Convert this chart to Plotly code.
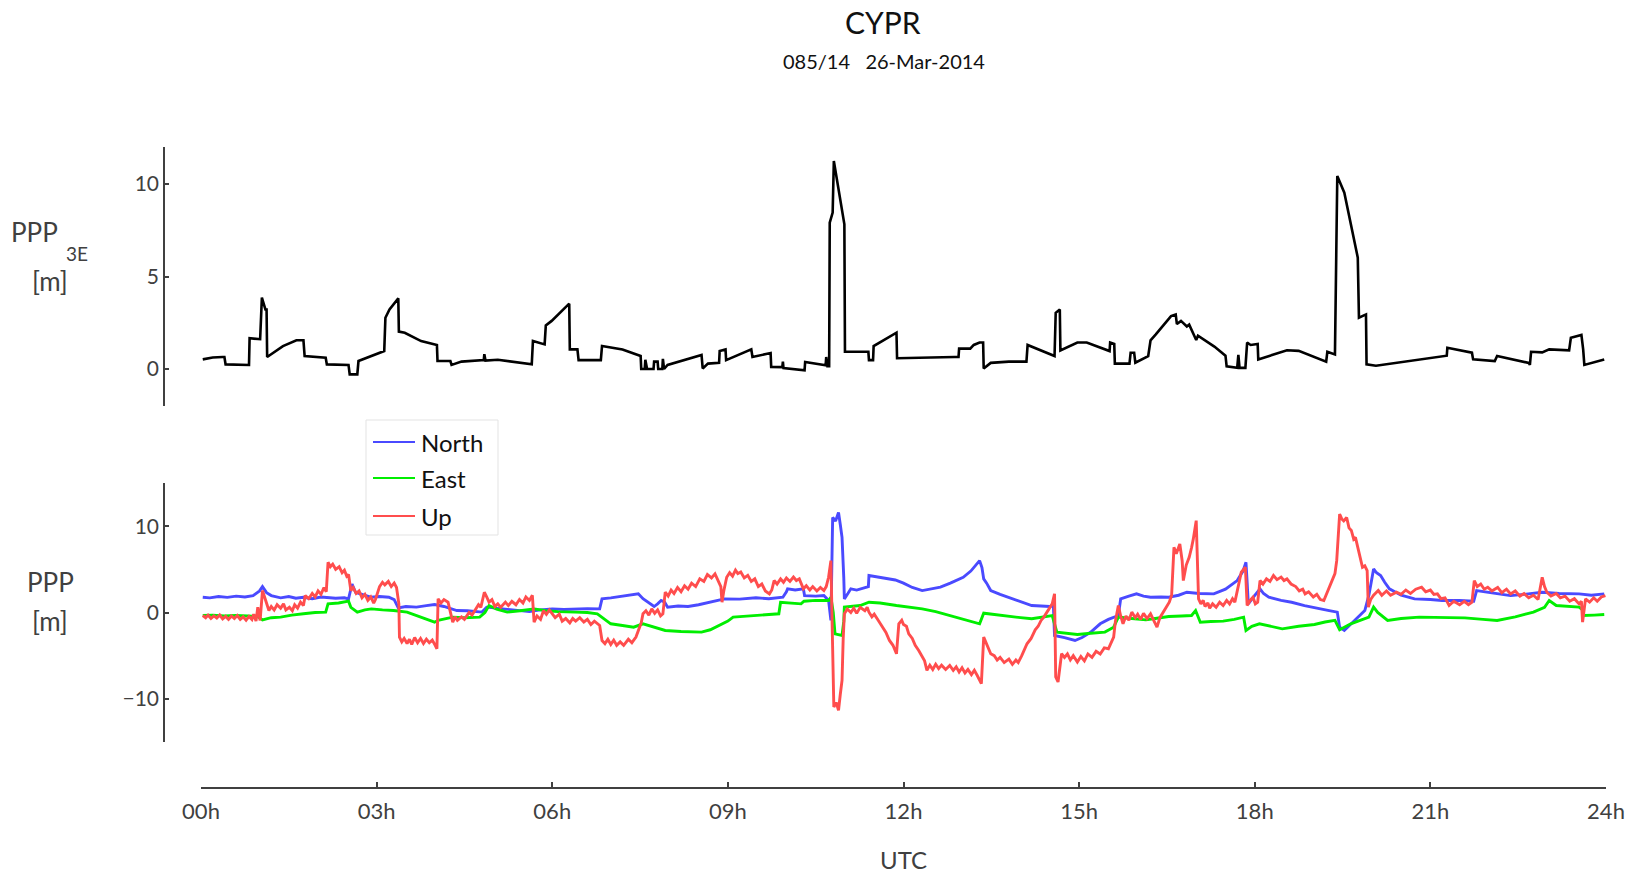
import plotly.graph_objects as go

# ---------------- data ----------------
top_t = [0.03,0.20,0.37,0.40,0.42,0.82,0.83,0.95,1.01,1.04,1.10,1.12,1.13,1.40,1.63,1.75,1.77,2.13,2.15,2.52,2.54,2.67,2.69,3.13,3.15,3.22,3.37,3.38,3.48,3.76,4.03,4.04,4.26,4.28,4.45,4.83,4.84,4.86,5.07,5.65,5.67,5.87,5.89,5.99,6.29,6.30,6.43,6.45,6.83,6.85,7.20,7.51,7.52,7.58,7.59,7.62,7.73,7.74,7.80,7.81,7.88,7.89,7.91,7.97,8.30,8.55,8.57,8.66,8.85,8.86,8.96,8.97,9.40,9.42,9.73,9.74,9.93,9.94,9.95,10.31,10.32,10.67,10.68,10.70,10.73,10.74,10.79,10.81,10.99,11.00,11.40,11.41,11.48,11.49,11.88,11.89,12.87,12.94,12.95,13.14,13.20,13.30,13.36,13.37,13.49,13.80,14.10,14.12,14.58,14.60,14.67,14.68,14.97,15.13,15.52,15.53,15.60,15.61,15.86,15.88,15.94,15.96,16.18,16.22,16.31,16.57,16.65,16.67,16.74,16.84,16.88,17.00,17.03,17.31,17.50,17.52,17.70,17.72,17.74,17.84,17.87,17.93,18.05,18.06,18.55,18.75,19.22,19.24,19.37,19.41,19.53,19.76,19.78,19.90,19.91,20.07,21.28,21.29,21.71,21.73,22.10,22.14,22.68,22.70,22.72,22.91,23.03,23.37,23.40,23.58,23.61,23.63,23.97]
top_v = [0.52,0.62,0.65,0.65,0.25,0.22,1.66,1.65,1.61,3.86,3.22,3.22,0.65,1.24,1.55,1.55,0.70,0.61,0.25,0.22,-0.29,-0.29,0.43,0.97,2.77,3.22,3.82,2.02,1.96,1.51,1.30,0.43,0.43,0.22,0.40,0.48,0.80,0.45,0.50,0.25,1.51,1.33,2.36,2.60,3.53,1.06,1.06,0.48,0.48,1.24,1.05,0.70,0.00,0.00,0.50,0.00,0.00,0.40,0.40,0.00,0.00,0.55,0.00,0.22,0.55,0.76,0.03,0.29,0.33,0.97,1.06,0.48,1.06,0.65,0.86,0.11,0.10,0.40,0.05,-0.07,0.38,0.20,0.65,0.15,0.15,7.91,8.45,11.24,7.82,0.93,0.93,0.48,0.48,1.24,1.96,0.58,0.65,0.65,1.11,1.10,1.30,1.43,1.43,0.03,0.33,0.40,0.40,1.30,0.70,3.04,3.22,1.00,1.43,1.43,0.97,1.43,1.35,0.29,0.29,0.88,0.88,0.34,0.70,1.55,1.87,2.86,2.95,2.43,2.60,2.30,2.40,1.57,1.80,1.21,0.72,0.14,0.06,0.77,0.06,0.06,1.43,1.30,1.35,0.52,1.01,0.98,0.40,0.93,0.79,10.43,9.53,6.02,2.77,2.95,0.25,0.18,0.72,1.15,0.88,0.52,0.43,0.70,0.33,0.22,0.93,0.90,1.06,1.01,1.69,1.84,1.06,0.22,0.52]

north_t = [0.03,0.15,0.30,0.45,0.60,0.75,0.89,1.00,1.05,1.12,1.20,1.36,1.50,1.62,1.75,1.90,2.05,2.13,2.30,2.45,2.52,2.58,2.64,2.75,2.90,3.05,3.21,3.30,3.37,3.50,3.68,3.85,3.99,4.15,4.37,4.55,4.76,4.80,4.88,5.05,5.23,5.40,5.61,5.80,6.00,6.20,6.39,6.60,6.81,6.85,7.00,7.24,7.40,7.47,7.55,7.74,7.80,7.86,7.92,7.97,8.15,8.32,8.50,8.70,8.94,9.20,9.48,9.70,9.94,10.00,10.02,10.15,10.29,10.31,10.50,10.64,10.72,10.76,10.78,10.79,10.84,10.89,10.92,10.95,10.98,10.99,11.05,11.10,11.20,11.34,11.40,11.41,11.55,11.72,11.86,12.00,12.15,12.32,12.47,12.63,12.80,13.02,13.15,13.30,13.34,13.37,13.42,13.49,13.65,13.88,14.05,14.19,14.35,14.50,14.56,14.58,14.75,14.93,15.05,15.20,15.36,15.50,15.67,15.71,15.85,15.98,16.10,16.22,16.40,16.53,16.70,16.84,17.05,17.30,17.50,17.70,17.80,17.85,17.87,17.89,17.98,18.09,18.15,18.24,18.45,18.63,18.85,19.10,19.25,19.41,19.45,19.53,19.70,19.88,19.95,20.03,20.08,20.15,20.22,20.30,20.50,20.73,21.00,21.20,21.50,21.74,21.79,22.00,22.20,22.37,22.60,22.91,23.20,23.54,23.75,23.97]
north_v = [1.77,1.70,1.85,1.75,1.90,1.80,1.96,2.50,3.00,2.30,1.96,1.70,1.85,1.65,1.77,1.60,1.80,1.77,1.65,1.70,1.58,3.30,2.35,2.10,1.77,1.85,1.77,1.50,0.54,0.70,0.62,0.80,0.93,0.70,0.23,0.20,0.04,0.05,0.62,0.50,0.42,0.30,0.10,0.30,0.42,0.35,0.42,0.45,0.42,1.58,1.70,1.96,2.10,2.16,1.60,0.69,1.00,1.39,1.20,0.62,0.75,0.69,0.90,1.20,1.58,1.55,1.70,1.60,1.77,2.40,2.74,2.60,2.74,1.96,1.90,1.96,1.40,-0.92,5.0,11.0,10.6,11.6,10.2,8.70,4.0,1.58,2.20,2.74,2.60,2.93,3.00,4.28,4.10,3.90,3.77,3.40,2.90,2.54,2.70,2.93,3.40,4.08,4.80,6.01,5.20,3.89,3.40,2.54,2.10,1.58,1.20,0.81,0.75,0.69,0.80,-2.66,-2.90,-3.24,-2.90,-2.27,-1.31,-0.80,-0.35,1.58,1.90,2.16,1.90,1.77,1.80,1.77,2.00,2.35,2.20,2.16,2.70,3.70,4.80,5.82,3.50,1.00,1.80,2.74,2.20,1.77,1.40,1.19,0.80,0.42,0.25,0.04,-1.70,-2.08,-1.00,0.23,2.00,5.05,4.60,4.28,3.50,2.74,2.00,1.58,1.50,1.39,1.40,1.30,2.54,2.30,2.10,1.96,2.10,2.35,2.20,2.16,2.00,2.16]

east_t = [0.03,0.20,0.40,0.59,0.80,0.97,1.05,1.20,1.36,1.55,1.75,1.95,2.13,2.17,2.35,2.52,2.56,2.67,2.80,2.91,3.10,3.29,3.52,3.68,3.85,3.99,4.05,4.30,4.50,4.76,4.85,4.92,5.05,5.23,5.45,5.69,5.90,6.10,6.39,6.60,6.77,6.90,7.00,7.20,7.39,7.55,7.70,7.93,8.20,8.55,8.70,8.86,9.00,9.09,9.40,9.70,9.87,9.90,10.10,10.25,10.30,10.50,10.72,10.76,10.80,10.83,10.95,10.98,10.99,11.10,11.26,11.41,11.60,11.88,12.10,12.32,12.55,12.79,13.05,13.30,13.37,13.60,13.80,14.00,14.19,14.40,14.54,14.62,14.80,14.97,15.20,15.44,15.59,15.67,15.90,16.14,16.30,16.53,16.75,16.92,16.99,17.07,17.25,17.46,17.65,17.81,17.85,17.95,18.08,18.25,18.47,18.75,19.02,19.20,19.37,19.45,19.64,19.80,19.95,20.03,20.10,20.27,20.50,20.81,21.20,21.59,21.90,22.14,22.45,22.76,22.95,23.03,23.15,23.35,23.54,23.60,23.62,23.80,23.97]
east_v = [-0.35,-0.30,-0.40,-0.35,-0.40,-0.46,-0.85,-0.60,-0.54,-0.30,-0.15,0.00,0.04,1.00,1.10,1.31,0.60,0.04,0.30,0.42,0.30,0.23,0.04,-0.35,-0.80,-1.12,-0.90,-0.54,-0.60,-0.54,0.00,0.81,0.40,0.04,0.20,0.42,0.20,0.10,0.04,0.00,-0.15,-0.80,-1.31,-1.50,-1.70,-1.31,-1.60,-2.08,-2.20,-2.27,-2.00,-1.50,-1.00,-0.54,-0.40,-0.30,-0.15,1.19,1.10,1.00,1.30,1.40,1.39,1.77,0.0,-2.47,-2.66,-1.0,0.62,0.70,0.81,1.19,1.10,0.81,0.60,0.42,0.10,-0.35,-0.80,-1.31,-0.08,-0.30,-0.46,-0.60,-0.73,-0.55,-0.35,-2.27,-2.40,-2.54,-2.40,-2.27,-1.70,-0.54,-0.70,-0.85,-0.70,-0.46,-0.40,-0.35,0.23,-1.12,-1.05,-1.00,-0.80,-0.54,-2.08,-1.60,-1.31,-1.60,-1.89,-1.60,-1.39,-1.10,-0.92,-2.00,-1.31,-0.90,-0.54,0.62,0.00,-0.92,-0.70,-0.54,-0.60,-0.62,-0.80,-0.92,-0.50,0.04,0.60,1.39,0.81,0.70,0.62,0.30,-0.35,-0.30,-0.23]

up_t = [0.03,0.08,0.12,0.17,0.22,0.27,0.32,0.37,0.42,0.47,0.52,0.57,0.62,0.67,0.72,0.77,0.82,0.87,0.90,0.94,0.97,1.01,1.05,1.10,1.16,1.20,1.25,1.30,1.36,1.41,1.45,1.51,1.56,1.60,1.65,1.70,1.75,1.78,1.84,1.90,1.95,2.00,2.05,2.10,2.14,2.17,2.21,2.25,2.30,2.36,2.41,2.45,2.49,2.52,2.56,2.60,2.65,2.70,2.75,2.80,2.85,2.90,2.95,2.98,3.02,3.05,3.10,3.14,3.20,3.25,3.30,3.34,3.38,3.39,3.43,3.47,3.52,3.56,3.60,3.65,3.70,3.75,3.80,3.85,3.90,3.95,4.00,4.03,4.05,4.10,4.15,4.22,4.30,4.34,4.38,4.45,4.50,4.58,4.63,4.69,4.74,4.78,4.84,4.88,4.92,4.97,5.02,5.07,5.12,5.20,5.25,5.31,5.38,5.44,5.50,5.55,5.61,5.66,5.69,5.74,5.80,5.85,5.90,5.95,6.00,6.05,6.12,6.17,6.23,6.30,6.35,6.40,6.47,6.54,6.60,6.66,6.72,6.81,6.85,6.90,6.95,7.00,7.05,7.10,7.16,7.22,7.30,7.36,7.43,7.48,7.52,7.55,7.60,7.65,7.70,7.75,7.80,7.85,7.89,7.93,7.98,8.03,8.08,8.14,8.20,8.26,8.32,8.38,8.45,8.52,8.59,8.65,8.72,8.78,8.84,8.88,8.90,8.93,8.98,9.03,9.08,9.13,9.17,9.22,9.28,9.34,9.40,9.46,9.52,9.58,9.64,9.71,9.75,9.79,9.84,9.90,9.95,10.00,10.06,10.12,10.17,10.22,10.29,10.34,10.40,10.45,10.52,10.58,10.64,10.68,10.72,10.76,10.78,10.81,10.85,10.89,10.92,10.95,10.97,10.99,11.04,11.10,11.15,11.20,11.26,11.34,11.38,11.41,11.46,11.50,11.57,11.62,11.65,11.70,11.76,11.82,11.88,11.92,11.97,12.00,12.05,12.09,12.15,12.20,12.26,12.32,12.36,12.40,12.45,12.50,12.55,12.60,12.65,12.72,12.79,12.85,12.90,12.95,13.00,13.05,13.10,13.16,13.21,13.26,13.33,13.37,13.42,13.49,13.55,13.60,13.65,13.72,13.80,13.86,13.92,13.96,14.02,14.11,14.18,14.25,14.30,14.35,14.40,14.45,14.50,14.54,14.58,14.60,14.64,14.70,14.75,14.80,14.85,14.90,14.97,15.03,15.09,15.15,15.22,15.29,15.36,15.43,15.50,15.55,15.59,15.62,15.67,15.71,15.75,15.80,15.85,15.90,15.96,16.00,16.05,16.10,16.16,16.22,16.28,16.33,16.38,16.44,16.49,16.54,16.58,16.62,16.66,16.72,16.76,16.78,16.83,16.88,16.92,16.95,17.00,17.04,17.08,17.12,17.15,17.20,17.23,17.28,17.34,17.40,17.46,17.52,17.57,17.62,17.66,17.70,17.74,17.77,17.84,17.87,17.92,17.97,18.01,18.05,18.09,18.14,18.20,18.26,18.32,18.38,18.45,18.50,18.55,18.62,18.70,18.76,18.82,18.86,18.92,19.00,19.06,19.12,19.18,19.22,19.27,19.33,19.37,19.40,19.45,19.49,19.52,19.57,19.61,19.65,19.69,19.72,19.76,19.80,19.84,19.88,19.92,19.94,19.98,20.03,20.11,20.17,20.25,20.32,20.42,20.50,20.58,20.66,20.75,20.85,20.92,21.00,21.06,21.12,21.18,21.25,21.32,21.40,21.50,21.58,21.65,21.71,21.75,21.80,21.86,21.92,21.98,22.05,22.15,22.22,22.30,22.37,22.45,22.53,22.60,22.68,22.76,22.84,22.91,22.95,22.99,23.06,23.15,23.22,23.30,23.38,23.46,23.54,23.58,23.60,23.65,23.72,23.79,23.85,23.92,23.99]
up_v = [-0.35,-0.60,-0.30,-0.70,-0.40,-0.65,-0.30,-0.75,-0.45,-0.80,-0.40,-0.70,-0.35,-0.80,-0.50,-0.90,-0.45,-0.80,-0.20,-1.00,0.62,-0.92,2.54,1.50,0.23,0.70,0.30,0.90,0.50,1.00,0.30,0.60,0.20,0.90,0.50,1.20,0.80,1.96,1.60,2.20,1.80,2.50,2.10,2.90,2.40,5.82,5.30,5.60,5.00,5.30,4.60,4.90,4.20,4.40,2.54,2.90,2.20,2.50,1.70,2.10,1.40,1.80,1.10,1.50,2.40,3.00,3.50,3.20,3.60,3.00,3.40,2.90,1.00,-2.85,-3.40,-3.00,-3.60,-3.10,-3.70,-2.90,-3.50,-3.00,-3.60,-3.10,-3.50,-3.20,-3.80,-4.20,1.58,1.10,1.50,1.19,-1.12,-0.50,-0.90,-0.50,-0.80,0.00,-0.30,0.42,0.90,0.60,2.35,1.80,1.20,1.50,0.70,1.00,0.60,1.20,0.80,1.30,0.90,1.50,1.10,1.80,1.40,2.00,-1.12,-0.40,-0.80,0.20,-0.20,0.30,-0.20,-0.60,-0.20,-1.00,-0.70,-1.20,-0.70,-1.00,-0.60,-1.10,-0.80,-1.40,-1.00,-1.50,-3.24,-3.60,-3.10,-3.70,-3.20,-3.80,-3.40,-3.80,-3.10,-3.50,-2.85,-2.00,-1.20,-0.15,0.20,-0.30,0.42,-0.10,0.30,-0.40,-0.15,2.35,1.90,2.60,2.20,2.90,2.40,3.10,2.70,3.40,3.00,3.90,3.60,4.40,4.00,4.47,3.60,3.00,1.19,2.50,4.08,4.60,4.20,4.90,4.50,4.70,4.00,4.30,3.60,3.90,3.00,3.30,2.50,2.16,2.60,3.70,3.30,3.90,3.50,4.00,3.60,4.10,3.70,3.90,2.74,3.10,2.60,3.00,2.50,2.90,2.54,3.00,4.08,6.01,-0.92,-10.95,-10.40,-11.34,-9.50,-7.87,-3.00,-0.15,0.40,0.00,0.50,-0.10,0.60,0.20,0.60,0.04,-0.50,-0.20,-0.92,-1.40,-1.80,-2.30,-3.24,-3.80,-4.78,-1.31,-0.90,-1.40,-1.60,-2.47,-3.00,-3.80,-4.40,-5.16,-5.60,-6.70,-6.10,-6.60,-6.00,-6.50,-6.10,-6.60,-6.13,-6.70,-6.30,-6.90,-6.40,-7.00,-6.60,-7.20,-6.70,-7.30,-8.24,-2.85,-3.60,-4.78,-5.00,-5.50,-5.20,-5.80,-5.40,-6.00,-5.50,-5.80,-5.00,-3.62,-3.00,-2.00,-1.60,-0.92,-0.50,0.00,0.50,1.00,2.16,-7.47,-8.05,-4.78,-5.20,-4.80,-5.50,-5.00,-5.74,-5.10,-5.60,-4.80,-5.20,-4.50,-4.80,-4.10,-4.20,-3.40,-2.85,-1.00,0.81,-0.40,-1.31,-0.40,-0.90,0.04,-0.60,-0.20,-0.80,-0.10,-0.70,-0.15,-0.90,-1.70,-0.60,0.10,0.62,1.20,2.00,7.55,6.80,7.94,6.00,3.70,5.50,6.40,7.50,8.50,10.64,1.58,1.00,1.40,0.70,1.10,0.50,1.00,0.60,1.20,0.80,1.40,1.00,1.60,1.20,2.50,3.80,4.66,5.24,0.81,1.40,1.77,1.00,1.19,3.70,3.30,3.90,3.60,4.28,3.80,4.10,3.70,3.89,3.30,3.00,2.50,2.70,2.16,2.40,1.80,2.10,1.50,1.39,2.00,2.80,3.70,4.50,6.00,11.40,10.80,10.60,11.00,9.80,9.50,8.50,8.70,7.50,6.50,5.24,5.40,4.86,0.62,1.50,2.00,2.54,2.00,2.50,2.00,2.36,2.10,2.60,2.20,2.70,2.93,2.40,2.60,2.10,2.16,1.60,1.70,0.81,1.30,0.90,1.30,0.90,1.20,3.70,3.00,3.30,2.70,2.93,2.50,2.90,2.30,2.70,2.15,2.50,1.90,2.20,1.70,2.00,1.50,4.08,3.00,2.35,1.90,2.20,1.70,1.90,1.30,1.60,1.00,1.30,-1.12,1.58,1.20,1.70,1.30,1.80,1.96]

hour_ticks = [0, 3, 6, 9, 12, 15, 18, 21, 24]
hour_labels = ["00h", "03h", "06h", "09h", "12h", "15h", "18h", "21h", "24h"]
enu_names = ["North", "East", "Up"]
enu_colors = ["#4a4aff", "#00ee00", "#ff4d4d"]

# ---------------- layout helpers (page px -> paper) ----------------
W, H = 1643, 875
def px(x):
    return x / W
def py(y):
    return 1 - y / H

FONT = "Lato, 'Open Sans', sans-serif"
AXC = "#404040"

fig = go.Figure()
fig.add_trace(go.Scatter(x=top_t, y=top_v, mode="lines", line=dict(color="black", width=2.6),
                         xaxis="x", yaxis="y", showlegend=False))
for name, col, tt, vv in zip(enu_names, enu_colors, [north_t, east_t, up_t], [north_v, east_v, up_v]):
    fig.add_trace(go.Scatter(x=tt, y=vv, mode="lines", name=name, line=dict(color=col, width=2.9),
                             xaxis="x2", yaxis="y2", showlegend=False))

xdom = [px(201), px(1606)]
common_y = dict(anchor="free", position=px(164), showline=True, linecolor=AXC, linewidth=1.5,
                ticks="inside", ticklen=4, tickcolor=AXC, tickwidth=1.5, showgrid=False,
                zeroline=False, automargin=False, tickfont=dict(size=21, color=AXC, family=FONT))
fig.update_layout(
    template="none",
    width=W, height=H, margin=dict(l=0, r=0, t=0, b=0, pad=0, autoexpand=False),
    paper_bgcolor="white", plot_bgcolor="white", showlegend=False,
    font=dict(family=FONT, color=AXC),
    xaxis=dict(domain=xdom, range=[0, 24], visible=False, anchor="y", automargin=False),
    yaxis=dict(domain=[py(406), py(147)], range=[-2, 12], tickvals=[0, 5, 10], **common_y),
    xaxis2=dict(domain=xdom, range=[0, 24], anchor="free", position=py(788), automargin=False,
                showline=True, linecolor=AXC, linewidth=1.5, ticks="inside", ticklen=5,
                tickcolor=AXC, tickwidth=1.5, tickvals=hour_ticks, ticktext=hour_labels,
                ticklabelstandoff=4,
                showgrid=False, zeroline=False, tickfont=dict(size=22, color=AXC, family=FONT)),
    yaxis2=dict(domain=[py(742), py(483)], range=[-15, 15], tickvals=[-10, 0, 10], **common_y),
)

ann = []
def A(text, x, y, size, color=AXC, xanchor="center"):
    ann.append(dict(text=text, x=px(x), y=py(y), xref="paper", yref="paper", showarrow=False,
                    xanchor=xanchor, yanchor="middle", font=dict(size=size, color=color, family=FONT)))

A("CYPR", 883, 22, 30, "#111111")
A("085/14\u00a0\u00a0\u00a026-Mar-2014", 884, 61, 20, "#111111")
A("PPP", 34, 232, 26)
A("3E", 77, 254, 19)
A("[m]", 50, 281, 26)
A("PPP", 50, 582, 26)
A("[m]", 50, 621, 26)
A("UTC", 903, 859, 24)

# legend box
shapes = [dict(type="rect", xref="paper", yref="paper", x0=px(366), x1=px(498), y0=py(535), y1=py(420),
               line=dict(color="#e3e3e3", width=1), fillcolor="white", layer="above")]
for name, col, yy in zip(enu_names, enu_colors, [442, 478, 516]):
    shapes.append(dict(type="line", xref="paper", yref="paper", x0=px(373), x1=px(415), y0=py(yy), y1=py(yy),
                       line=dict(color=col, width=2), layer="above"))
    A(name, 419, yy, 24, "#111111", xanchor="left")

fig.update_layout(annotations=ann, shapes=shapes)
fig.write_html("out.html", config={"displayModeBar": False},
               post_script="document.body.style.margin='0px';")
